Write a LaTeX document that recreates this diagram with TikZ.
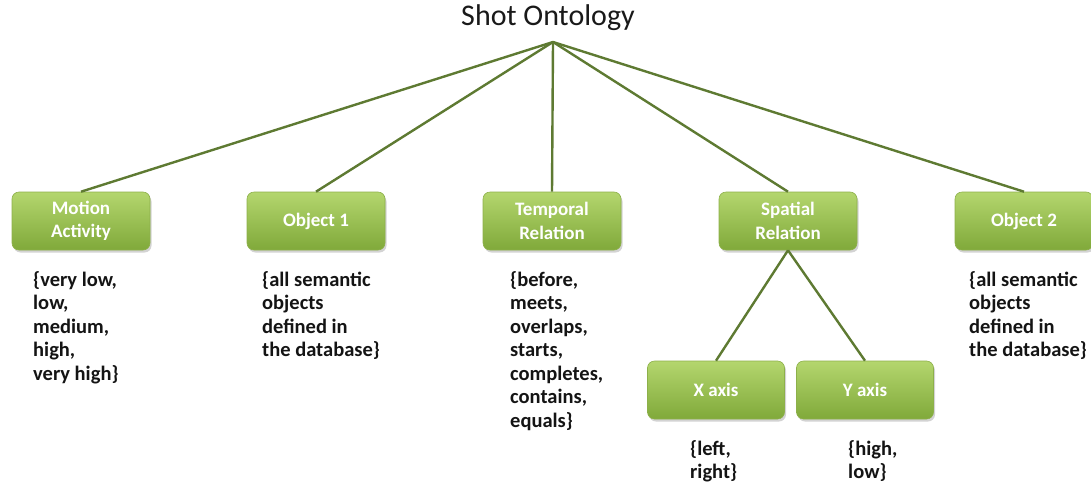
\documentclass[tikz,border=0pt]{standalone}
\usepackage{fontspec}
\setmainfont{Carlito}
\usetikzlibrary{shadows}
\definecolor{linkgreen}{HTML}{5E7A32}
\definecolor{boxtop}{HTML}{B4D66E}
\definecolor{boxbot}{HTML}{80A93A}
\definecolor{boxedge}{HTML}{8DB04A}
\tikzset{
  conceptbox/.style={rectangle, rounded corners=7pt, minimum width=138pt, minimum height=58pt,
    top color=boxtop, bottom color=boxbot, draw=boxedge, line width=0.6pt,
    drop shadow={shadow xshift=1.5pt, shadow yshift=-2.5pt, opacity=0.35},
    text=white, font=\fontsize{19}{23.5}\selectfont\bfseries, align=center, inner sep=2pt},
  valuelist/.style={anchor=north west, inner sep=0pt, align=left,
    font=\fontsize{20.5}{23.5}\selectfont\bfseries, text=black!92},
  link/.style={draw=linkgreen, line width=2.4pt}
}
\begin{document}
\begin{tikzpicture}[x=1pt,y=-1pt]
\useasboundingbox (0,0) rectangle (1091,485);
% root
\node[font=\fontsize{30}{36}\selectfont, text=black!90] (root) at (548,18) {Shot Ontology};
\coordinate (apex) at (553,42);
% first level
\node[conceptbox] (motion) at (81,221) {Motion\\Activity};
\node[conceptbox] (obj1) at (316,221) {Object 1};
\node[conceptbox] (temporal) at (552,221) {Temporal\\Relation};
\node[conceptbox] (spatial) at (788,221) {Spatial\\Relation};
\node[conceptbox] (obj2) at (1024,221) {Object 2};
% second level
\node[conceptbox, minimum width=137pt] (xaxis) at (716,390) {X axis};
\node[conceptbox, minimum width=137pt] (yaxis) at (865,390) {Y axis};
% connectors
\foreach \n in {motion,obj1,temporal,spatial,obj2}
  \draw[link] (apex) -- (\n.north);
\draw[link] (spatial.south) -- (xaxis.north);
\draw[link] (spatial.south) -- (yaxis.north);
% value sets
\node[valuelist] (motionvals) at (33,271) {\{very low,\\low,\\medium,\\high,\\very high\}};
\node[valuelist] (obj1vals) at (262,271) {\{all semantic\\objects\\defined in\\the database\}};
\node[valuelist] (tempvals) at (510,271) {\{before,\\meets,\\overlaps,\\starts,\\completes,\\contains,\\equals\}};
\node[valuelist] (obj2vals) at (969,271) {\{all semantic\\objects\\defined in\\the database\}};
\node[valuelist] (xvals) at (690,440) {\{left,\\right\}};
\node[valuelist] (yvals) at (848,440) {\{high,\\low\}};
\end{tikzpicture}
\end{document}
